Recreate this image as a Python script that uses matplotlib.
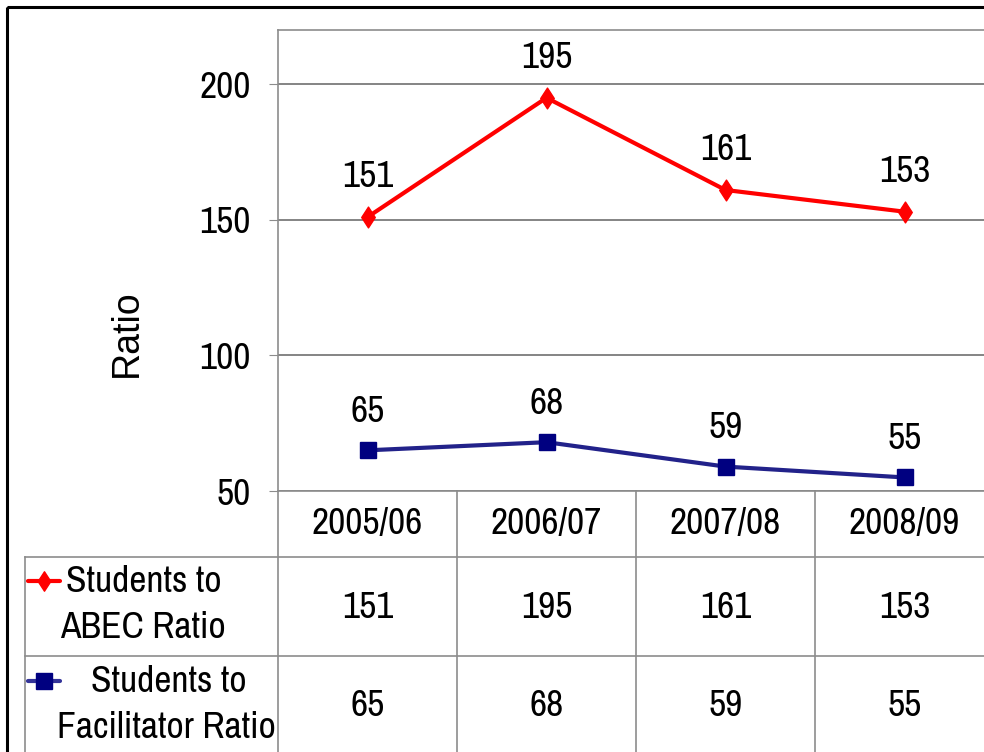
import matplotlib.pyplot as plt
from matplotlib.path import Path
from matplotlib.patches import Rectangle

years = ['2005/06', '2006/07', '2007/08', '2008/09']
abec = [151, 195, 161, 153]
facilitator = [65, 68, 59, 55]
series_labels = [['Students to', 'ABEC Ratio'], ['Students to', 'Facilitator Ratio']]
yticks = [50, 100, 150, 200]

plt.rcParams['font.family'] = ['Archivo Narrow', 'Roboto Condensed', 'Liberation Sans', 'DejaVu Sans']

W, H = 984, 752
fig = plt.figure(figsize=(W / 100, H / 100), dpi=100)

# layout in pixels (y measured from the top)
left, right, top, bottom = 278, 994, 30, 491
col_w = (right - left) / len(years)
row_lines = [557, 656]
key_left = 25
grey = '#8c8c8c'
fs = 27

red = '#ff0000'
navy = '#000080'
diamond = Path([(0, 1), (0.65, 0), (0, -1), (-0.65, 0), (0, 1)],
               [Path.MOVETO, Path.LINETO, Path.LINETO, Path.LINETO, Path.CLOSEPOLY])

# background layer in pixel coordinates for the data table and frame
bg = fig.add_axes([0, 0, 1, 1])
bg.set_xlim(0, W)
bg.set_ylim(H, 0)
bg.axis('off')

bg.add_patch(Rectangle((7, 7), W + 20, H + 20, fill=False, ec='black', lw=2.2))

for y in row_lines:
    bg.plot([key_left, W + 10], [y, y], color=grey, lw=1.2)
bg.plot([key_left, key_left], [row_lines[0], H + 10], color=grey, lw=1.2)
for i in range(len(years) + 1):
    x = left + i * col_w
    bg.plot([x, x], [bottom, H + 10], color=grey, lw=1.2)

centers = [left + (i + 0.5) * col_w for i in range(len(years))]
for cx, yr in zip(centers, years):
    bg.text(cx, 524, yr, ha='center', va='center', fontsize=fs)
for cx, a, f in zip(centers, abec, facilitator):
    bg.text(cx, 607, str(a), ha='center', va='center', fontsize=fs)
    bg.text(cx, 706, str(f), ha='center', va='center', fontsize=fs)

# legend keys inside the table
bg.plot([28, 60], [581, 581], color=red, lw=3, solid_capstyle='round')
bg.plot([44], [581], marker=diamond, ms=14, color=red, ls='none')
bg.plot([28, 60], [681, 681], color=navy, lw=3, solid_capstyle='round', alpha=0.8)
bg.plot([44], [681], marker='s', ms=11.5, color=navy, ls='none')

bg.text(144, 582, series_labels[0][0], ha='center', va='center', fontsize=fs)
bg.text(143, 627, series_labels[0][1], ha='center', va='center', fontsize=fs)
bg.text(169, 681, series_labels[1][0], ha='center', va='center', fontsize=fs)
bg.text(166, 727, series_labels[1][1], ha='center', va='center', fontsize=fs)

# line chart
ax = fig.add_axes([left / W, 1 - bottom / H, (right - left) / W, (bottom - top) / H])
ax.set_facecolor('none')
x = list(range(len(years)))
ax.plot(x, abec, color=red, lw=3, marker=diamond, ms=15, clip_on=False, zorder=3)
ax.plot(x, facilitator, color='#22228a', lw=3, marker='s', ms=11.5,
        mfc=navy, mec=navy, clip_on=False, zorder=3)

for xi, v in zip(x, abec):
    ax.annotate(str(v), (xi, v), xytext=(0, 29), textcoords='offset points',
                ha='center', va='center', fontsize=fs)
for xi, v in zip(x, facilitator):
    ax.annotate(str(v), (xi, v), xytext=(0, 28), textcoords='offset points',
                ha='center', va='center', fontsize=fs)

ax.set_xlim(-0.5, len(years) - 0.5)
ax.set_ylim(50, 220)
ax.set_yticks(yticks)
ax.set_xticks([])
ax.yaxis.grid(True, color='#707070', lw=1.2)
ax.set_axisbelow(True)
ax.tick_params(axis='y', length=6.5, color=grey, labelsize=fs, pad=13)
for side in ['left', 'top', 'bottom']:
    ax.spines[side].set_color(grey)
    ax.spines[side].set_linewidth(1.2)
ax.spines['right'].set_visible(False)

ax.set_ylabel('Ratio', fontsize=fs, family=['Liberation Sans', 'DejaVu Sans'])
ax.yaxis.set_label_coords((145 - left) / (right - left), (bottom - 333) / (bottom - top))

fig.savefig('out.png', dpi=100)
